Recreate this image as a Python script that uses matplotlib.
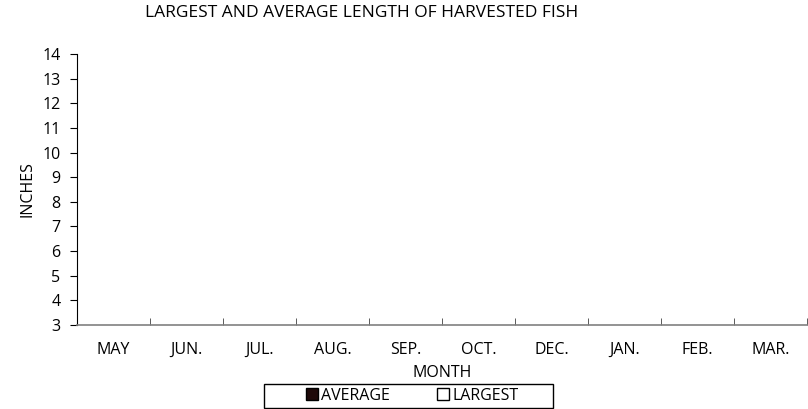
import numpy as np
import matplotlib
matplotlib.use("Agg")
from matplotlib import pyplot as plt
from matplotlib.lines import Line2D
from matplotlib.patches import Rectangle

months = ['MAY', 'JUN.', 'JUL.', 'AUG.', 'SEP.', 'OCT.', 'DEC.', 'JAN.', 'FEB.', 'MAR.']
# no bars are visible in the chart, so the series hold no values
average = [np.nan] * len(months)
largest = [np.nan] * len(months)
yticks = list(range(3, 15))

plt.rcParams['font.family'] = ['Open Sans', 'DejaVu Sans']
fs = 11.5

fig = plt.figure(figsize=(8.08, 4.09), dpi=100)
ax = fig.add_axes([0.0953, 0.2054, 0.9037, 0.6626])

x = np.arange(len(months))
ax.bar(x - 0.18, average, width=0.35, color='#1f0a0a', edgecolor='black')
ax.bar(x + 0.18, largest, width=0.35, color='white', edgecolor='black')

ax.set_xlim(-0.5, len(months) - 0.5)
ax.set_ylim(3, 14)
ax.set_yticks(yticks)
ax.set_xticks(x)
ax.set_xticklabels(months, fontsize=fs)
ax.set_xticks(np.arange(-0.5, len(months), 1), minor=True)
ax.tick_params(axis='x', which='major', length=0, pad=12)
ax.tick_params(axis='x', which='minor', direction='in', length=5, color='#404040')
ax.tick_params(axis='y', direction='out', length=5, labelsize=fs, pad=7)

for s in ['top', 'right']:
    ax.spines[s].set_visible(False)
ax.spines['bottom'].set_color('#808080')
ax.spines['bottom'].set_linewidth(1.2)
ax.spines['left'].set_color('black')

ax.set_ylabel('INCHES', fontsize=fs, labelpad=5)
ax.set_xlabel('MONTH', fontsize=fs, labelpad=5)
fig.text(0.447, 0.968, 'LARGEST AND AVERAGE LENGTH OF HARVESTED FISH',
         ha='center', va='center', fontsize=12.5)

# legend box
fig.patches.append(Rectangle((264 / 808, 1 - 408 / 409), 289 / 808, 24 / 409,
                             transform=fig.transFigure, fill=False,
                             edgecolor='black', linewidth=1.0))
handles = [
    Line2D([], [], marker='s', linestyle='none', markersize=8,
           markerfacecolor='#1f0a0a', markeredgecolor='black', label='AVERAGE'),
    Line2D([], [], marker='s', linestyle='none', markersize=8,
           markerfacecolor='white', markeredgecolor='black', label='LARGEST'),
]
fig.legend(handles=handles, loc='center', bbox_to_anchor=(0.51, 0.032),
           ncol=2, fontsize=fs, frameon=False,
           handletextpad=0.2, columnspacing=2.9, borderpad=0.0,
           handlelength=0.8, borderaxespad=0)

fig.savefig('out.png', dpi=100)
